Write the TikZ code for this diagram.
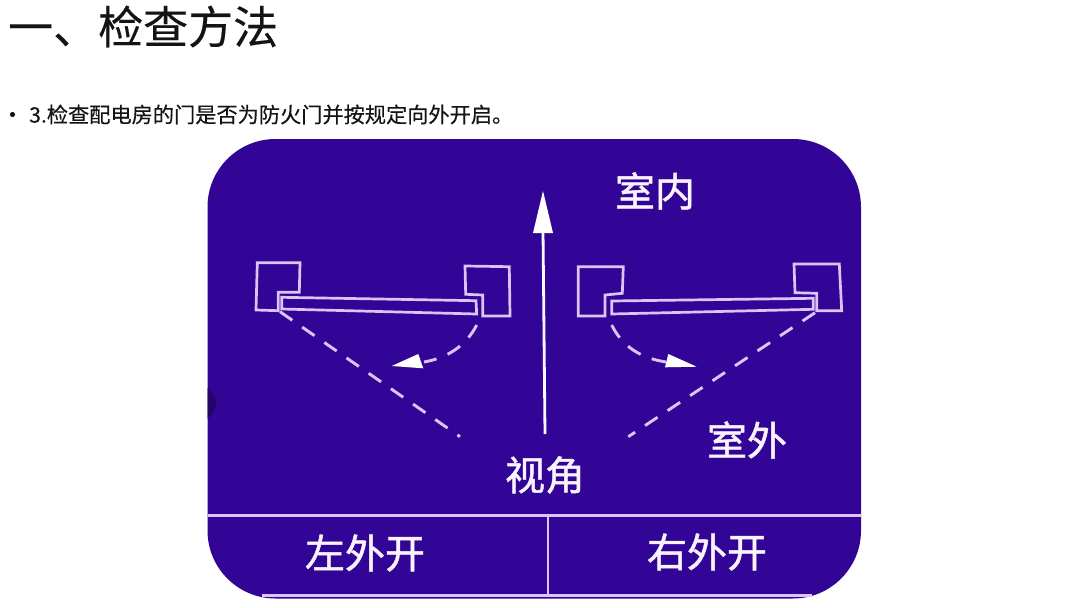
\documentclass[tikz,border=0pt]{standalone}
\usepackage{fontspec}
\setmainfont{Noto Sans CJK SC}
\newfontfamily\cjkfont{Noto Sans CJK SC}
\newfontfamily\headfont[FakeBold=0.3]{Noto Sans CJK SC}
\newfontfamily\labelfont[FakeBold=1.2]{Noto Sans CJK SC}
\definecolor{panel}{HTML}{330596}
\definecolor{lineC}{HTML}{DCC4F6}
\definecolor{inkC}{HTML}{141414}
\tikzset{
  wire/.style={draw=lineC,line width=2.7pt,line join=miter},
  dash line/.style={draw=lineC,line width=2.9pt,dash pattern=on 15pt off 12pt},
  tip/.style={fill=white,draw=none},
  label/.style={inner sep=0pt,text=white!80!lineC,font=\labelfont\fontsize{40}{40}\selectfont},
}
\begin{document}
\begin{tikzpicture}[x=1pt,y=-1pt]
\useasboundingbox (0,0) rectangle (1080,608);
\fill[white] (0,0) rectangle (1080,608);
% heading
\node[anchor=west,inner sep=0pt,text=inkC,font=\headfont\fontsize{45}{45}\selectfont] (title) at (8,26.5) {一、检查方法};
\fill[inkC] (12.5,114.5) circle (2.6pt);
\node[anchor=west,inner sep=0pt,text=inkC,font=\headfont\fontsize{21.2}{22}\selectfont] (body) at (29,114.5) {3.检查配电房的门是否为防火门并按规定向外开启。};
% panel
\fill[panel,rounded corners=68pt] (207.5,139) rectangle (861,598.5);
\fill[panel!70!black] (207.5,388) .. controls (212,392) and (216,398) .. (216,403) .. controls (216,409) and (212,415) .. (207.5,419) -- cycle;
% left door
\draw[wire] (257.3,262.7) -- (300,262.7) -- (299.3,292.3) -- (278.3,292.3) -- (278.3,310.7) -- (256,310) -- cycle;
\draw[wire] (465,266) -- (509.3,266.7) -- (510,316) -- (482.7,316) -- (482.7,295) -- (465.7,294.3) -- cycle;
\draw[wire] (281.7,297.3) -- (476,300.7) -- (476.7,314) -- (281.7,309) -- cycle;
\draw[dash line] (280,311.7) -- (460,436.7);
\draw[dash line] (476.7,325) .. controls (466,346) and (447,358) .. (424,362);
\fill[tip] (391.7,366) -- (418.3,354) -- (423.3,368.3) -- cycle;
% right door
\draw[wire] (578.3,266.7) -- (623.3,266.7) -- (622.3,293.3) -- (605,295) -- (605,316) -- (578.3,316) -- cycle;
\draw[wire] (794,264) -- (839.3,264) -- (841.7,310.7) -- (816.7,310.7) -- (816.7,293.3) -- (795,292.7) -- cycle;
\draw[wire] (611.7,301) -- (813.3,298.3) -- (813.3,309.3) -- (611.7,314) -- cycle;
\draw[dash line] (815,312.7) -- (628.3,436.7);
\draw[dash line] (611.7,325) .. controls (622,346) and (640,358) .. (666,362);
\fill[tip] (696.7,366.7) -- (668.3,354) -- (665,367.3) -- cycle;
% centre arrow
\draw[draw=white!85!lineC,line width=2.8pt] (545,434) -- (543,230);
\fill[tip] (543,191) -- (553,233) -- (533,233) -- cycle;
% table lines
\draw[wire,line width=3pt] (207.5,515) -- (861,515);
\draw[wire,line width=2.4pt] (548,515) -- (548,595);
\draw[wire,line width=3pt] (262,595) -- (812,595);
% labels
\node[label] (indoor) at (655,191) {室内};
\node[label] (outdoor) at (747,440) {室外};
\node[label] (view) at (545,475) {视角};
\node[label] (leftopen) at (365,553) {左外开};
\node[label] (rightopen) at (707,552) {右外开};
\end{tikzpicture}
\end{document}
